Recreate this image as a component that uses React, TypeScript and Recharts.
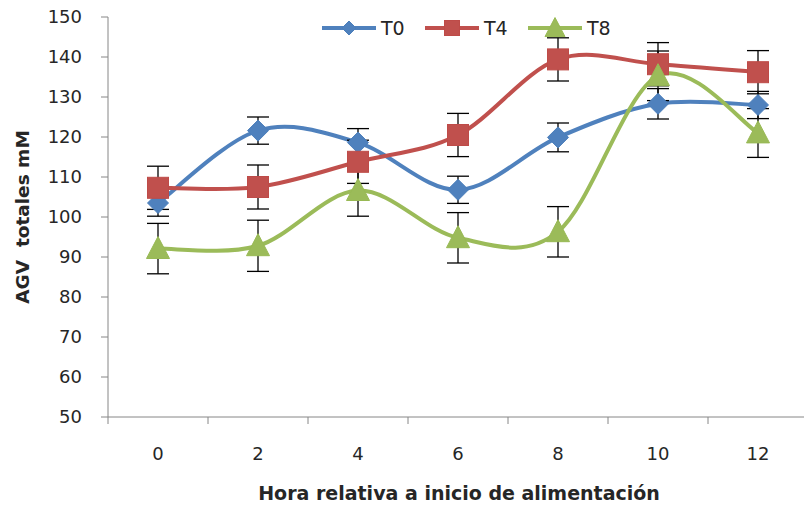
import React from "react";
import { ErrorBar, Line, LineChart, XAxis, YAxis } from "recharts";

const hours = [0, 2, 4, 6, 8, 10, 12];
const t0 = [103.5, 121.6, 118.6, 106.8, 119.9, 128.3, 128];
const t0Err = [3.3, 3.4, 3.5, 3.4, 3.6, 3.8, 3.4];
const t4 = [107.3, 107.5, 113.8, 120.5, 139.4, 138.2, 136.2];
const t4Err = [5.4, 5.5, 5.4, 5.4, 5.4, 5.4, 5.4];
const t8 = [92.1, 92.8, 106.6, 94.8, 96.3, 135.3, 121];
const t8Err = [6.3, 6.4, 6.4, 6.3, 6.3, 6.2, 6.1];
const yTicks = [50, 60, 70, 80, 90, 100, 110, 120, 130, 140, 150];
const xTicks = [-1, 0, 1, 2, 3, 4, 5, 6, 7, 8, 9, 10, 11, 12, 13];

const BLUE = "#4F81BD";
const RED = "#C0504D";
const GREEN = "#9BBB59";
const AXIS = "#868686";
const TEXT = "#262626";
const FONT = "'DejaVu Sans', 'Liberation Sans', sans-serif";

const data = hours.map((h, i) => ({
  hour: h,
  t0: t0[i],
  t0Err: t0Err[i],
  t4: t4[i],
  t4Err: t4Err[i],
  t8: t8[i],
  t8Err: t8Err[i],
}));

// Excel style smoothed line (Catmull-Rom through the points)
function excelCurve(context: any) {
  let pts: number[][] = [];
  return {
    areaStart() {},
    areaEnd() {},
    lineStart() {
      pts = [];
    },
    point(x: number, y: number) {
      pts.push([+x, +y]);
    },
    lineEnd() {
      const n = pts.length;
      if (!n) return;
      context.moveTo(pts[0][0], pts[0][1]);
      for (let i = 0; i < n - 1; i++) {
        const p0 = pts[i - 1] || pts[i];
        const p1 = pts[i];
        const p2 = pts[i + 1];
        const p3 = pts[i + 2] || p2;
        context.bezierCurveTo(
          p1[0] + (p2[0] - p0[0]) / 6,
          p1[1] + (p2[1] - p0[1]) / 6,
          p2[0] - (p3[0] - p1[0]) / 6,
          p2[1] - (p3[1] - p1[1]) / 6,
          p2[0],
          p2[1]
        );
      }
    },
  };
}

function Diamond({ cx, cy, r = 10.5 }: any) {
  return (
    <path
      d={`M${cx},${cy - r}L${cx + r},${cy}L${cx},${cy + r}L${cx - r},${cy}Z`}
      fill={BLUE}
      stroke="#4A7EBB"
      strokeWidth={1}
    />
  );
}

function Square({ cx, cy, s = 10.5 }: any) {
  return (
    <rect
      x={cx - s}
      y={cy - s}
      width={s * 2}
      height={s * 2}
      fill={RED}
      stroke="#BE4B48"
      strokeWidth={1}
    />
  );
}

function Triangle({ cx, cy, w = 11.5, h = 22 }: any) {
  return (
    <path
      d={`M${cx},${cy - h * 0.55}L${cx + w},${cy + h * 0.45}L${cx - w},${cy + h * 0.45}Z`}
      fill={GREEN}
      stroke="#98B954"
      strokeWidth={1}
    />
  );
}

function XTick(props: any) {
  const { x, y, payload } = props;
  const v = payload.value;
  if (v % 2 !== 0) {
    return <line x1={x} y1={y} x2={x} y2={y + 7} stroke={AXIS} strokeWidth={1} />;
  }
  return (
    <text x={x} y={y + 43} textAnchor="middle" fontFamily={FONT} fontSize={18} fill={TEXT}>
      {v}
    </text>
  );
}

function LegendItem({ left, label, color, children }: any) {
  return (
    <div style={{ position: "absolute", left, top: 16, display: "flex", alignItems: "center" }}>
      <svg width={54} height={24}>
        <line x1={0} y1={12} x2={54} y2={12} stroke={color} strokeWidth={4} strokeLinecap="round" />
        {children}
      </svg>
      <span style={{ marginLeft: 5, fontFamily: FONT, fontSize: 19, color: TEXT }}>{label}</span>
    </div>
  );
}

export default function App() {
  return (
    <div
      style={{
        position: "absolute",
        left: 0,
        top: 0,
        width: 804,
        height: 510,
        overflow: "hidden",
        background: "#fff",
      }}
    >
      <LineChart width={812} height={510} data={data} margin={{ top: 17, right: 4, bottom: 0, left: 0 }}>
        <XAxis
          dataKey="hour"
          type="number"
          domain={[-1, 13]}
          ticks={xTicks}
          interval={0}
          tickSize={0}
          tickMargin={0}
          tickLine={false}
          tick={<XTick />}
          axisLine={{ stroke: AXIS }}
          height={93}
        />
        <YAxis
          type="number"
          domain={[50, 150]}
          ticks={yTicks}
          interval={0}
          width={108}
          tickSize={7}
          tickMargin={19}
          axisLine={{ stroke: AXIS }}
          tickLine={{ stroke: AXIS }}
          tick={{ fontFamily: FONT, fontSize: 18, fill: TEXT }}
        />
        <Line
          dataKey="t0"
          type={excelCurve as any}
          stroke={BLUE}
          strokeWidth={4}
          isAnimationActive={false}
          dot={(p: any) => <Diamond key={`d0-${p.index}`} cx={p.cx} cy={p.cy} />}
          activeDot={false}
        >
          <ErrorBar dataKey="t0Err" direction="y" width={11} stroke="#000" strokeWidth={1.3} isAnimationActive={false} />
        </Line>
        <Line
          dataKey="t4"
          type={excelCurve as any}
          stroke={RED}
          strokeWidth={4}
          isAnimationActive={false}
          dot={(p: any) => <Square key={`d4-${p.index}`} cx={p.cx} cy={p.cy} />}
          activeDot={false}
        >
          <ErrorBar dataKey="t4Err" direction="y" width={11} stroke="#000" strokeWidth={1.3} isAnimationActive={false} />
        </Line>
        <Line
          dataKey="t8"
          type={excelCurve as any}
          stroke={GREEN}
          strokeWidth={4}
          isAnimationActive={false}
          dot={(p: any) => <Triangle key={`d8-${p.index}`} cx={p.cx} cy={p.cy} />}
          activeDot={false}
        >
          <ErrorBar dataKey="t8Err" direction="y" width={11} stroke="#000" strokeWidth={1.3} isAnimationActive={false} />
        </Line>
      </LineChart>

      <div
        style={{
          position: "absolute",
          left: 22,
          top: 217,
          transform: "translate(-50%, -50%) rotate(-90deg)",
          whiteSpace: "pre",
          fontFamily: FONT,
          fontWeight: "bold",
          fontSize: 18.5,
          color: TEXT,
        }}
      >
        AGV  totales mM
      </div>
      <div
        style={{
          position: "absolute",
          left: 459,
          top: 493,
          transform: "translate(-50%, -50%)",
          whiteSpace: "nowrap",
          fontFamily: FONT,
          fontWeight: "bold",
          fontSize: 19,
          color: TEXT,
        }}
      >
        Hora relativa a inicio de alimentación
      </div>

      <LegendItem left={322} label="T0" color={BLUE}>
        <Diamond cx={27} cy={12} r={7} />
      </LegendItem>
      <LegendItem left={425} label="T4" color={RED}>
        <Square cx={27} cy={12} s={7.5} />
      </LegendItem>
      <LegendItem left={528} label="T8" color={GREEN}>
        <Triangle cx={27} cy={12} w={10} h={19} />
      </LegendItem>
    </div>
  );
}
